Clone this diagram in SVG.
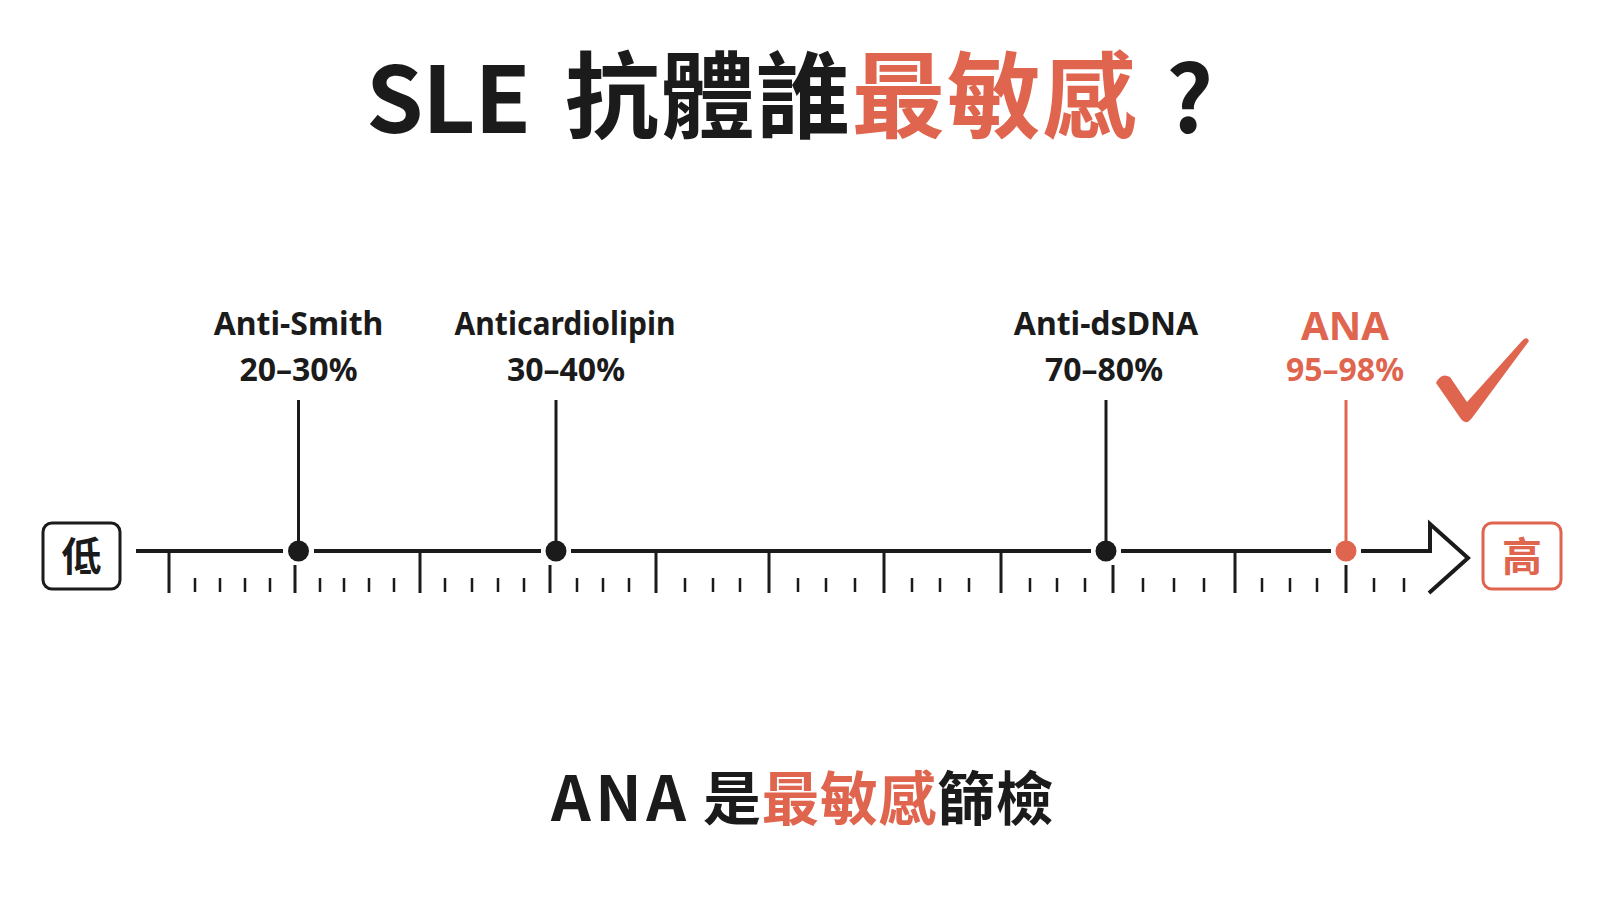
<svg xmlns="http://www.w3.org/2000/svg" width="1600" height="900" viewBox="0 0 1600 900">
<style>
.cjk{font-family:"Noto Sans CJK TC","Noto Sans CJK SC",sans-serif;font-weight:700}
.lbl{font-family:"Noto Sans","Liberation Sans",sans-serif;font-weight:700;text-anchor:middle}
.blk{fill:#1b1b1b}
.org{fill:#E0654F}
.axis{stroke:#1b1b1b;stroke-width:4;fill:none}
.big{stroke:#1b1b1b;stroke-width:3}
.sm{stroke:#1b1b1b;stroke-width:2.5}
.stem{stroke:#1b1b1b;stroke-width:3}
</style>
<rect width="1600" height="900" fill="#ffffff"/>

<g id="title">
  <text class="cjk blk" x="366" y="133" font-size="92" textLength="165" lengthAdjust="spacing">SLE</text>
  <text class="cjk" x="565" y="131" font-size="94" letter-spacing="1.5"><tspan class="blk">抗體誰</tspan><tspan class="org">最敏感</tspan></text>
  <text class="cjk blk" x="1166" y="133" font-size="92">?</text>
</g>

<g id="connectors">
  <path class="axis" d="M136,551H283M314,551H541M571,551H1091M1121,551H1331M1361,551H1430V524L1468,558L1429,593"/>
  <g id="ticks-big" class="big">
    <line x1="169" y1="551" x2="169" y2="593"/>
    <line x1="420" y1="551" x2="420" y2="593"/>
    <line x1="656" y1="551" x2="656" y2="593"/>
    <line x1="769" y1="551" x2="769" y2="593"/>
    <line x1="884" y1="551" x2="884" y2="593"/>
    <line x1="1001" y1="551" x2="1001" y2="593"/>
    <line x1="1235" y1="551" x2="1235" y2="593"/>
    <line x1="295" y1="565" x2="295" y2="593"/>
    <line x1="550" y1="565" x2="550" y2="593"/>
    <line x1="1113" y1="565" x2="1113" y2="593"/>
    <line x1="1346" y1="565" x2="1346" y2="593"/>
  </g>
  <path class="sm" d="M195,578V592M220,578V592M245,578V592M270,578V592M320,578V592M344,578V592M369,578V592M394,578V592M445,578V592M472,578V592M498,578V592M524,578V592M577,578V592M603,578V592M629,578V592M685,578V592M713,578V592M740,578V592M798,578V592M826,578V592M855,578V592M912,578V592M940,578V592M969,578V592M1030,578V592M1057,578V592M1085,578V592M1143,578V592M1174,578V592M1204,578V592M1262,578V592M1290,578V592M1317,578V592M1374,578V592M1404,578V592"/>
  <line class="stem" x1="298.5" y1="400" x2="298.5" y2="551"/>
  <line class="stem" x1="556" y1="400" x2="556" y2="551"/>
  <line class="stem" x1="1106" y1="400" x2="1106" y2="551"/>
  <line x1="1346" y1="400" x2="1346" y2="551" stroke="#E0654F" stroke-width="3"/>
</g>

<g id="low">
  <rect x="43" y="523" width="77" height="66" rx="9" fill="#fff" stroke="#1b1b1b" stroke-width="3"/>
  <text class="cjk blk" x="81.5" y="571" font-size="40" text-anchor="middle">低</text>
</g>
<g id="high">
  <rect x="1483" y="523" width="78" height="66" rx="9" fill="#fff" stroke="#E0654F" stroke-width="3"/>
  <text class="cjk org" x="1522" y="571" font-size="40" font-weight="500" text-anchor="middle">高</text>
</g>

<g id="anti-smith">
  <circle cx="298.5" cy="551" r="10.5" class="blk"/>
  <text class="lbl blk" x="298.5" y="335" font-size="32">Anti-Smith</text>
  <text class="lbl blk" x="298.5" y="381" font-size="32">20–30%</text>
</g>
<g id="anticardiolipin">
  <circle cx="556" cy="551" r="10.5" class="blk"/>
  <text class="lbl blk" x="565" y="335" font-size="32" textLength="221" lengthAdjust="spacingAndGlyphs">Anticardiolipin</text>
  <text class="lbl blk" x="566" y="381" font-size="32">30–40%</text>
</g>
<g id="anti-dsdna">
  <circle cx="1106" cy="551" r="10.5" class="blk"/>
  <text class="lbl blk" x="1106" y="335" font-size="32">Anti-dsDNA</text>
  <text class="lbl blk" x="1104" y="381" font-size="32">70–80%</text>
</g>
<g id="ana">
  <circle cx="1346" cy="551" r="10.5" class="org"/>
  <text class="lbl org" x="1345" y="340" font-size="40">ANA</text>
  <text class="lbl org" x="1345" y="381" font-size="32">95–98%</text>
  <path class="org" d="M1436,383 Q1441,372 1450,377 L1467,402 L1521,342 Q1527,335 1529,341 L1472,418 Q1466,426 1461,419 Z"/>
</g>

<g id="conclusion">
  <text class="cjk blk" x="551" y="821" font-size="62" textLength="135" lengthAdjust="spacing">ANA</text>
  <text class="cjk" x="703" y="820" font-size="58" letter-spacing="0.5"><tspan class="blk">是</tspan><tspan class="org">最敏感</tspan><tspan class="blk">篩檢</tspan></text>
</g>
</svg>
